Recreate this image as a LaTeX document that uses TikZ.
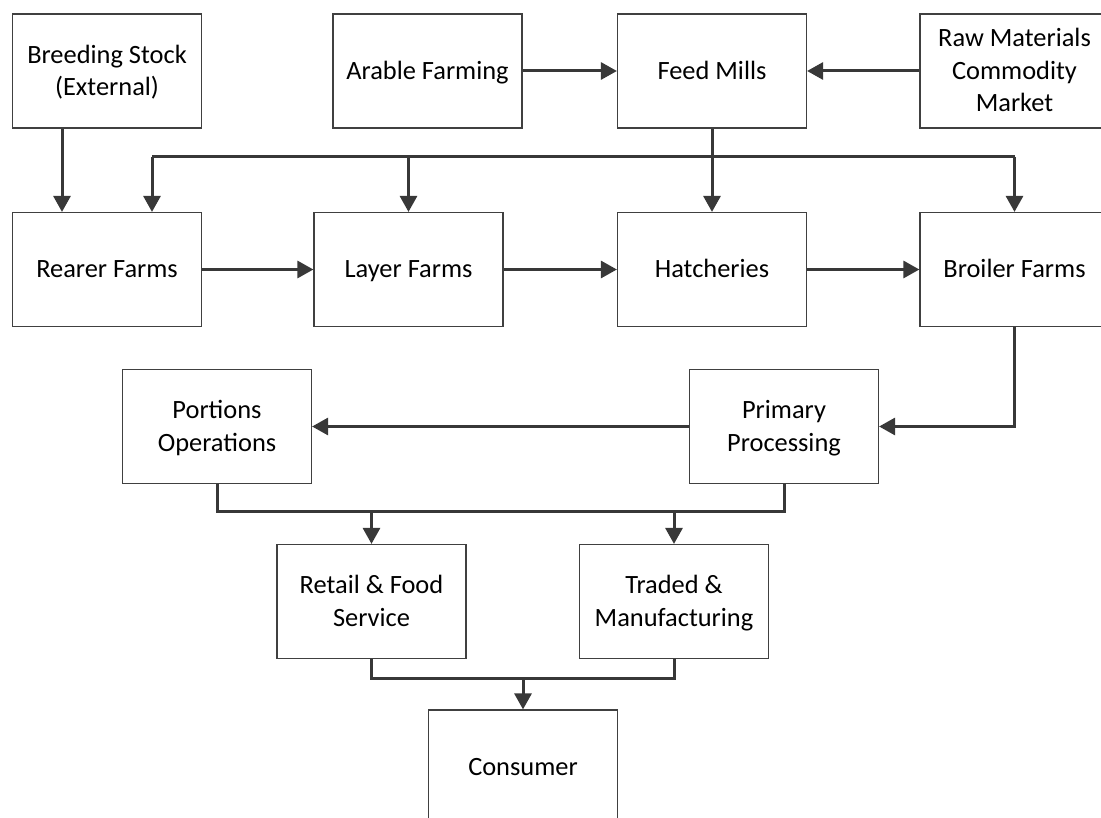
\documentclass[tikz,border=0pt]{standalone}
\usepackage{fontspec}
\setmainfont{Carlito}
\usetikzlibrary{arrows.meta}
\definecolor{linec}{HTML}{383838}
\definecolor{boxc}{HTML}{404040}
\newcommand{\bxline}[1]{#1\rule[-7pt]{0pt}{31pt}}
\tikzset{
  box/.style={draw=boxc, line width=1.2pt, minimum width=189pt, minimum height=114pt,
    inner sep=0pt, align=center, font=\fontsize{26.4}{32.5}\selectfont, text=black},
  conn/.style={draw=linec, line width=3pt},
  arr/.style={conn, -{Triangle[length=16pt,width=17pt]}}
}
\begin{document}
\begin{tikzpicture}[x=1pt,y=-1pt]
\useasboundingbox (0,0) rectangle (1101,818);
\clip (0,0) rectangle (1101,818);
\fill[white] (0,0) rectangle (1101,818);
% nodes
\node[box] (breed) at (107,71) {\bxline{Breeding Stock}\\\bxline{(External)}};
\node[box] (arable) at (427.5,71) {\bxline{Arable Farming}};
\node[box] (feed) at (712,71) {\bxline{Feed Mills}};
\node[box] (raw) at (1014.5,71) {\bxline{Raw Materials}\\\bxline{Commodity}\\\bxline{Market}};
\node[box] (rearer) at (107,269.5) {\bxline{Rearer Farms}};
\node[box] (layer) at (408.5,269.5) {\bxline{Layer Farms}};
\node[box] (hatch) at (712,269.5) {\bxline{Hatcheries}};
\node[box] (broiler) at (1014.5,269.5) {\bxline{Broiler Farms}};
\node[box] (portions) at (217,426.5) {\bxline{Portions}\\\bxline{Operations}};
\node[box] (primary) at (784,426.5) {\bxline{Primary}\\\bxline{Processing}};
\node[box] (retail) at (371.5,601.5) {\bxline{Retail \& Food}\\\bxline{Service}};
\node[box] (traded) at (674,601.5) {\bxline{Traded \&}\\\bxline{Manufacturing}};
\node[box] (consumer) at (523,767) {\bxline{Consumer}};
% helper coordinates
\coordinate (feedbus) at (712,157);
\coordinate (procbus) at (500,511);
\coordinate (retbus) at (500,678);
% connectors
\draw[arr] ([xshift=-45pt]breed.south) -- ([xshift=-45pt]rearer.north);
\draw[arr] (arable.east) -- (feed.west);
\draw[arr] (raw.west) -- (feed.east);
\draw[arr] (feed.south) -- (hatch.north);
\draw[conn] ([xshift=45pt]rearer.north |- feedbus) -- (broiler.north |- feedbus);
\draw[arr] ([xshift=45pt]rearer.north |- feedbus) -- ([xshift=45pt]rearer.north);
\draw[arr] (layer.north |- feedbus) -- (layer.north);
\draw[arr] (broiler.north |- feedbus) -- (broiler.north);
\draw[arr] (rearer.east) -- (layer.west);
\draw[arr] (layer.east) -- (hatch.west);
\draw[arr] (hatch.east) -- (broiler.west);
\draw[arr] (broiler.south) |- (primary.east);
\draw[arr] (primary.west) -- (portions.east);
\draw[conn] (portions.south) |- (procbus) -| (primary.south);
\draw[arr] (retail.north |- procbus) -- (retail.north);
\draw[arr] (traded.north |- procbus) -- (traded.north);
\draw[conn] (retail.south) |- (retbus) -| (traded.south);
\draw[arr] (consumer.north |- retbus) -- (consumer.north);
\end{tikzpicture}
\end{document}
